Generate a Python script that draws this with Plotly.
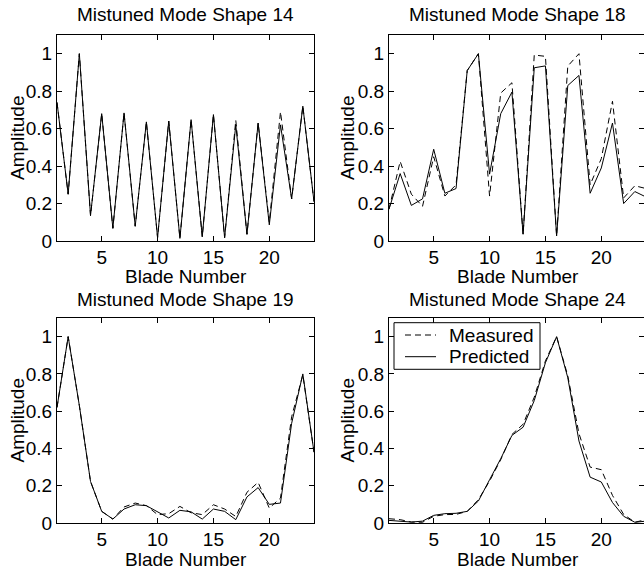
import plotly.graph_objects as go

blades = list(range(1, 25))

# Mistuned Mode Shape 14
m14_measured = [0.74, 0.25, 1.0, 0.136, 0.68, 0.068, 0.684, 0.079, 0.636, 0.018, 0.64, 0.014,
                0.648, 0.023, 0.675, 0.018, 0.645, 0.036, 0.63, 0.10, 0.69, 0.225, 0.72, 0.21]
m14_predicted = [0.74, 0.25, 1.0, 0.136, 0.68, 0.068, 0.684, 0.079, 0.636, 0.018, 0.64, 0.014,
                 0.648, 0.023, 0.675, 0.018, 0.62, 0.036, 0.63, 0.086, 0.62, 0.225, 0.72, 0.21]

# Mistuned Mode Shape 18
m18_measured = [0.17, 0.425, 0.25, 0.185, 0.45, 0.24, 0.30, 0.91, 1.0, 0.24, 0.79, 0.845,
                0.035, 0.993, 0.986, 0.027, 0.934, 1.0, 0.30, 0.44, 0.746, 0.23, 0.295, 0.28]
m18_predicted = [0.17, 0.36, 0.19, 0.225, 0.49, 0.255, 0.28, 0.91, 1.0, 0.357, 0.68, 0.795,
                 0.036, 0.925, 0.935, 0.027, 0.83, 0.884, 0.255, 0.39, 0.63, 0.20, 0.264, 0.235]

# Mistuned Mode Shape 19
m19_measured = [0.62, 1.0, 0.63, 0.223, 0.0625, 0.021, 0.086, 0.107, 0.093, 0.045, 0.05, 0.089,
                0.055, 0.045, 0.098, 0.075, 0.035, 0.165, 0.218, 0.08, 0.134, 0.57, 0.795, 0.38]
m19_predicted = [0.62, 1.0, 0.63, 0.223, 0.0625, 0.021, 0.075, 0.098, 0.093, 0.062, 0.027, 0.068,
                 0.06, 0.021, 0.075, 0.0625, 0.018, 0.14, 0.19, 0.10, 0.107, 0.535, 0.80, 0.38]

# Mistuned Mode Shape 24
m24_measured = [0.023, 0.018, 0.005, 0.004, 0.036, 0.045, 0.046, 0.0625, 0.125, 0.225, 0.34, 0.475,
                0.53, 0.675, 0.87, 1.0, 0.79, 0.48, 0.30, 0.286, 0.148, 0.046, 0.004, 0.018]
m24_predicted = [0.014, 0.01, 0.005, 0.01, 0.041, 0.05, 0.052, 0.0625, 0.118, 0.232, 0.345, 0.47,
                 0.514, 0.657, 0.86, 1.0, 0.78, 0.44, 0.246, 0.22, 0.11, 0.036, 0.004, 0.01]

titles = ["Mistuned Mode Shape 14", "Mistuned Mode Shape 18",
          "Mistuned Mode Shape 19", "Mistuned Mode Shape 24"]
panels = [(m14_measured, m14_predicted), (m18_measured, m18_predicted),
          (m19_measured, m19_predicted), (m24_measured, m24_predicted)]
series_names = ["Measured", "Predicted"]
x_title = "Blade Number"
y_title = "Amplitude"
x_ticks = [5, 10, 15, 20]
y_ticks = [0, 0.2, 0.4, 0.6, 0.8, 1]
y_tick_labels = ["0", "0.2", "0.4", "0.6", "0.8", "1"]

W, H = 644, 571
FONT = "Liberation Sans, Arial, Helvetica, sans-serif"
FS = 19
DASH = "6px,4px"

# pixel geometry of plot areas (left, right, top, bottom)
px_unit = 257.0 / 23.0
boxes = [(57, 314, 35, 241), (389, 644, 35, 241),
         (57, 314, 318, 523), (389, 644, 318, 523)]
title_y = [14, 14, 299, 299]
xlabel_y = [276, 276, 559, 559]
ylabel_x = [17, 347, 17, 347]


def px(xp):
    return xp / W


def py(yp):
    return 1 - yp / H


fig = go.Figure()
layout = dict(width=W, height=H, margin=dict(l=0, r=0, t=0, b=0, autoexpand=False),
              paper_bgcolor="white", plot_bgcolor="white",
              font=dict(family=FONT, size=FS, color="black"),
              showlegend=False, annotations=[], shapes=[])

for i, ((meas, pred), title, (l, r, t, b)) in enumerate(zip(panels, titles, boxes)):
    n = i + 1
    xa = "x" if n == 1 else f"x{n}"
    ya = "y" if n == 1 else f"y{n}"
    fig.add_trace(go.Scatter(x=blades, y=meas, mode="lines", name=series_names[0],
                             line=dict(color="black", width=1, dash=DASH),
                             xaxis=xa, yaxis=ya))
    fig.add_trace(go.Scatter(x=blades, y=pred, mode="lines", name=series_names[1],
                             line=dict(color="black", width=1),
                             xaxis=xa, yaxis=ya))
    xmax = 1 + (r - l) / px_unit
    xkey = "xaxis" if n == 1 else f"xaxis{n}"
    ykey = "yaxis" if n == 1 else f"yaxis{n}"
    layout[xkey] = dict(domain=[px(l), px(r)], range=[1, xmax], anchor=ya,
                        tickvals=x_ticks, ticks="inside", ticklen=5, tickcolor="black",
                        showline=True, linecolor="black", linewidth=1, mirror="ticks",
                        showgrid=False, zeroline=False, fixedrange=True, automargin=False,
                        tickfont=dict(size=FS), ticklabelstandoff=-1)
    layout[ykey] = dict(domain=[py(b), py(t)], range=[0, 1.1], anchor=xa,
                        tickvals=y_ticks, ticktext=y_tick_labels,
                        ticks="inside", ticklen=5, tickcolor="black",
                        showline=True, linecolor="black", linewidth=1, mirror="ticks",
                        showgrid=False, zeroline=False, fixedrange=True, automargin=False,
                        tickfont=dict(size=FS), ticklabelstandoff=0)
    full_r = l + 23 * px_unit
    cx = (l + full_r) / 2
    layout["annotations"].append(dict(text=title, xref="paper", yref="paper",
                                      x=px(cx), y=py(title_y[i]),
                                      xanchor="center", yanchor="middle", showarrow=False,
                                      font=dict(size=FS, family=FONT)))
    layout["annotations"].append(dict(text=x_title, xref="paper", yref="paper",
                                      x=px(cx), y=py(xlabel_y[i]),
                                      xanchor="center", yanchor="middle", showarrow=False,
                                      font=dict(size=FS, family=FONT)))
    layout["annotations"].append(dict(text=y_title, xref="paper", yref="paper",
                                      x=px(ylabel_x[i]), y=py((t + b) / 2),
                                      xanchor="center", yanchor="middle", showarrow=False,
                                      textangle=-90, font=dict(size=FS, family=FONT)))

# legend box in the last panel (MATLAB style)
lg_l, lg_r, lg_t, lg_b = 394, 540, 322.7, 369.3
row_y = [335, 356.7]
row_dash = [DASH, "solid"]
layout["shapes"].append(dict(type="rect", xref="paper", yref="paper",
                             x0=px(lg_l), x1=px(lg_r), y0=py(lg_b), y1=py(lg_t),
                             line=dict(color="black", width=1), fillcolor="white", layer="above"))
for name, yy, dsh in zip(series_names, row_y, row_dash):
    layout["shapes"].append(dict(type="line", xref="paper", yref="paper",
                                 x0=px(405), x1=px(436), y0=py(yy), y1=py(yy),
                                 line=dict(color="black", width=1, dash=dsh), layer="above"))
    layout["annotations"].append(dict(text=name, xref="paper", yref="paper",
                                      x=px(447), y=py(yy), xanchor="left", yanchor="middle",
                                      showarrow=False, font=dict(size=FS, family=FONT)))

fig.update_layout(**layout)
fig.write_html("out.html", config={"displayModeBar": False, "staticPlot": True},
               post_script="document.body.style.margin='0px';document.body.style.overflow='hidden';")
